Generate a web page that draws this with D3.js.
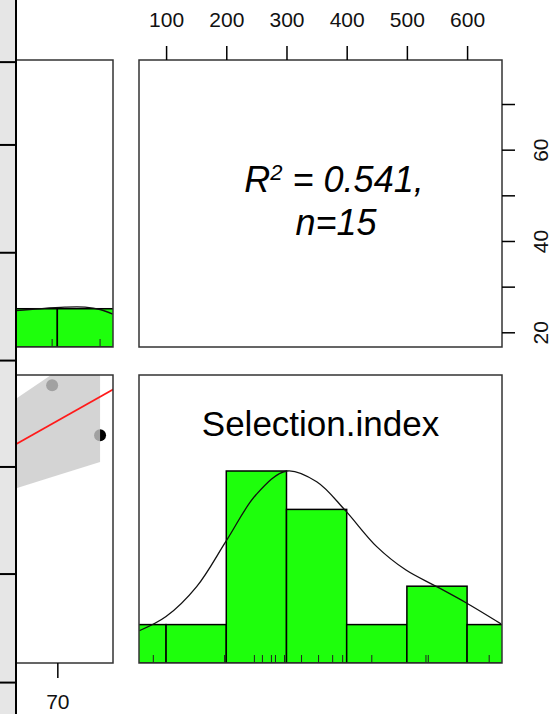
<!DOCTYPE html>
<html>
<head>
<meta charset="utf-8">
<script src="https://cdn.jsdelivr.net/npm/d3@7"></script>
<style>
  body { margin: 0; background: #fff; }
  svg { display: block; font-family: "Liberation Sans", Arial, sans-serif; }
</style>
</head>
<body>
<svg id="chart" width="552" height="714"></svg>
<script>
// Selection.index values
const selIndex = [78.8, 197.2, 246.7, 260, 275, 281.7, 296.7, 325, 353.3, 376.7, 393.3, 441.7, 531.7, 535.5, 636.7];
const selBreaks = [0, 100, 200, 300, 400, 500, 600, 700];
const selTicks = [100, 200, 300, 400, 500, 600];
// density line (in bar-count units)
const selDensX = [55.5, 99.9, 150.8, 200.7, 249.4, 300.3, 350.2, 397.2, 449.9, 498.5, 549.5, 598.2, 656.3];
const selDensY = [0.84, 1.21, 1.99, 3.2, 4.38, 5.0, 4.72, 3.98, 3.03, 2.42, 1.99, 1.57, 1.02];

// first variable: only the part that is inside the crop
const var1Vals = [69.1, 77.4];
const var1Sel = [636.7, 531.7];
const var1Breaks = [60, 70, 80];
const var1DensX = [62.9, 66.9, 71.3, 74.8, 77.4, 79.6];
const var1DensY = [0.95, 1.0, 1.04, 1.04, 0.98, 0.86];
const var1Ticks = [20, 30, 40, 50, 60, 70];
const var1Labels = [20, 40, 60];
const var1BottomTicks = [70];

// lm fit and its confidence band
const fitX = [62.9, 79.8];
const fitY = [513.5, 628.7];
const bandX = [62.9, 68.4, 77.4];
const bandHi = [609, 654, 730];
const bandLo = [421, 442, 476];

const r2Value = "0.541";
const nValue = 15;
const selName = "Selection.index";

// cut-off strip at the left edge (percent of height)
const stripBreaks = [8.7, 20.3, 35.4, 50.5, 65.4, 80.4, 95.6];

const svg = d3.select('#chart');
const W = 552, H = 714;

const col1 = [-250, 113], col2 = [139, 502];
const row1 = [60, 347], row2 = [375, 663];

const x1 = d3.scaleLinear().domain([16.78, 79.64]).range(col1);
const x2 = d3.scaleLinear().domain([55, 658]).range(col2);
const y1 = d3.scaleLinear().domain([16.78, 79.64]).range([row1[1], row1[0]]);
const y2 = d3.scaleLinear().domain([55, 658]).range([row2[1], row2[0]]);
const yc1 = d3.scaleLinear().domain([0, 7.5]).range([row1[1], row1[0]]);
const yc2 = d3.scaleLinear().domain([0, 7.5]).range([row2[1], row2[0]]);

const GREEN = '#1eff0c';
const BORDER = '#333';

let clipId = 0;
function panel(cx, cy) {
  const id = 'clip' + (clipId++);
  svg.append('clipPath').attr('id', id)
    .append('rect')
    .attr('x', cx[0]).attr('y', cy[0])
    .attr('width', cx[1] - cx[0]).attr('height', cy[1] - cy[0]);
  return svg.append('g').attr('clip-path', `url(#${id})`);
}
function border(cx, cy) {
  svg.append('rect')
    .attr('x', cx[0]).attr('y', cy[0])
    .attr('width', cx[1] - cx[0]).attr('height', cy[1] - cy[0])
    .attr('fill', 'none').attr('stroke', BORDER).attr('stroke-width', 1.5);
}

function histogram(g, values, breaks, xs, ys, densX, densY, bottom) {
  const bins = d3.bin()
    .domain([breaks[0], breaks[breaks.length - 1]])
    .thresholds(breaks.slice(1, -1))(values);
  g.selectAll('rect.bar').data(bins).enter().append('rect')
    .attr('class', 'bar')
    .attr('x', d => xs(d.x0))
    .attr('width', d => xs(d.x1) - xs(d.x0))
    .attr('y', d => ys(d.length))
    .attr('height', d => ys(0) - ys(d.length))
    .attr('fill', GREEN).attr('stroke', '#000').attr('stroke-width', 1.5);
  g.selectAll('line.rug').data(values).enter().append('line')
    .attr('x1', d => xs(d)).attr('x2', d => xs(d))
    .attr('y1', bottom).attr('y2', bottom - 8)
    .attr('stroke', '#222').attr('stroke-width', 1);
  const line = d3.line().x(d => xs(d[0])).y(d => ys(d[1])).curve(d3.curveCatmullRom.alpha(0.5));
  g.append('path').datum(d3.zip(densX, densY))
    .attr('d', line).attr('fill', 'none')
    .attr('stroke', '#111').attr('stroke-width', 1.3);
}

// top-left: histogram of first variable (cropped)
const gTL = panel(col1, row1);
histogram(gTL, var1Vals, var1Breaks, x1, yc1, var1DensX, var1DensY, row1[1]);
border(col1, row1);

// top-right: R^2 text
border(col2, row1);
const txt = svg.append('text')
  .attr('x', 334).attr('y', 192)
  .attr('text-anchor', 'middle')
  .attr('font-style', 'italic').attr('font-size', 36);
txt.append('tspan').text('R');
txt.append('tspan').attr('font-size', 22).attr('dy', -12).text('2');
txt.append('tspan').attr('dy', 12).text(' = ' + r2Value + ',');
svg.append('text')
  .attr('x', 336).attr('y', 235)
  .attr('text-anchor', 'middle')
  .attr('font-style', 'italic').attr('font-size', 36)
  .text('n=' + nValue);

// bottom-left: scatter with fit (cropped)
const gBL = panel(col1, row2);
gBL.selectAll('circle').data(d3.zip(var1Vals, var1Sel)).enter().append('circle')
  .attr('cx', d => x1(d[0])).attr('cy', d => y2(d[1])).attr('r', 6)
  .attr('fill', '#000');
const area = d3.area()
  .x(d => x1(d[0])).y0(d => y2(d[1])).y1(d => y2(d[2]));
gBL.append('path').datum(d3.zip(bandX, bandLo, bandHi))
  .attr('d', area).attr('fill', 'rgb(201,201,201)').attr('fill-opacity', 0.8);
gBL.append('path').datum(d3.zip(fitX, fitY))
  .attr('d', d3.line().x(d => x1(d[0])).y(d => y2(d[1])))
  .attr('fill', 'none').attr('stroke', '#ff1a1a').attr('stroke-width', 1.8);
border(col1, row2);

// bottom-right: Selection.index histogram
const gBR = panel(col2, row2);
histogram(gBR, selIndex, selBreaks, x2, yc2, selDensX, selDensY, row2[1]);
border(col2, row2);
svg.append('text')
  .attr('x', (col2[0] + col2[1]) / 2).attr('y', 436)
  .attr('text-anchor', 'middle').attr('font-size', 35)
  .text(selName);

// axes
function styleAxis(g) {
  g.select('.domain').remove();
  g.selectAll('.tick line').attr('stroke', '#000').attr('stroke-width', 1.5);
  g.selectAll('.tick text').attr('fill', '#111').attr('font-size', 21)
    .attr('font-family', '"Liberation Sans", Arial, sans-serif');
}

const axTop = svg.append('g').attr('transform', `translate(0,${row1[0]})`)
  .call(d3.axisTop(x2).tickValues(selTicks).tickSize(14).tickPadding(19));
styleAxis(axTop);

const axRight = svg.append('g').attr('transform', `translate(${col2[1]},0)`)
  .call(d3.axisRight(y1).tickValues(var1Ticks).tickSize(13)
    .tickFormat(d => var1Labels.includes(d) ? d : ''));
styleAxis(axRight);
axRight.selectAll('.tick text')
  .attr('x', null).attr('dy', null)
  .attr('text-anchor', 'middle')
  .attr('transform', 'translate(46,0) rotate(-90)');

const axBottom = svg.append('g').attr('transform', `translate(0,${row2[1]})`)
  .call(d3.axisBottom(x1).tickValues(var1BottomTicks).tickSize(15));
styleAxis(axBottom);
axBottom.selectAll('.tick text').attr('dy', null).attr('y', 46);

// cut-off strip at the far left
const sY = d3.scaleLinear().domain([0, 100]).range([0, H]);
svg.append('rect').attr('x', 0).attr('y', 0).attr('width', 16).attr('height', H)
  .attr('fill', '#e6e6e6');
svg.selectAll('line.strip').data(stripBreaks).enter().append('line')
  .attr('x1', 0).attr('x2', 16)
  .attr('y1', d => sY(d)).attr('y2', d => sY(d))
  .attr('stroke', '#000').attr('stroke-width', 2);
svg.append('line').attr('x1', 16).attr('x2', 16).attr('y1', 0).attr('y2', H)
  .attr('stroke', '#000').attr('stroke-width', 2);
</script>
</body>
</html>
